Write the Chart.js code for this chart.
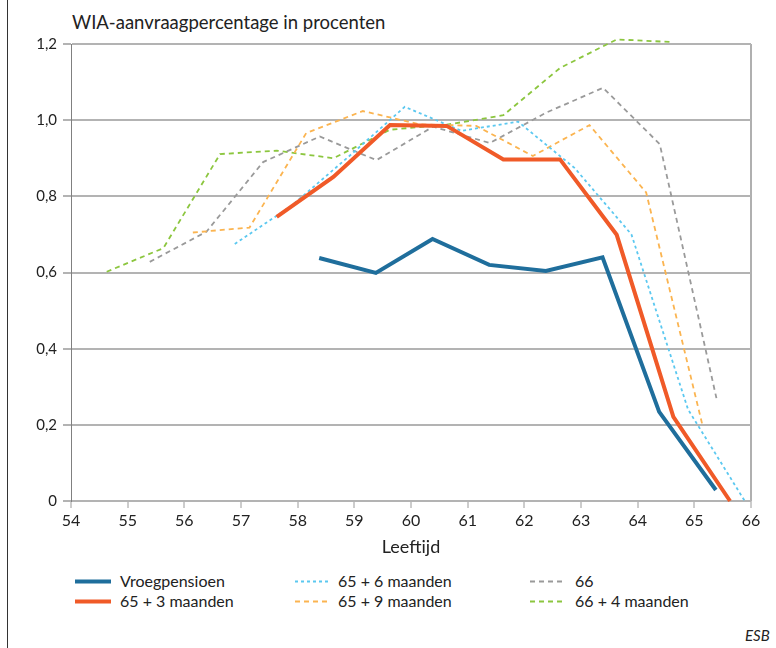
<!DOCTYPE html>
<html>
<head>
<meta charset="utf-8">
<script src="https://cdn.jsdelivr.net/npm/chart.js@4.4.1/dist/chart.umd.min.js"></script>
<style>
  html, body { margin: 0; padding: 0; background: #fff; }
  #wrap { position: relative; width: 776px; height: 648px; overflow: hidden; font-family: Lato, "Open Sans", sans-serif; color: #222; }
  #leftrule { position: absolute; left: 7px; top: 0; width: 1px; height: 648px; background: #333; }
  #title { position: absolute; left: 72px; top: 11px; font-size: 18.5px; white-space: nowrap; }
  canvas { position: absolute; left: 0; top: 0; }
  .lg { position: absolute; font-size: 16px; white-space: nowrap; line-height: 20px; }
  .lg svg { position: absolute; top: 0; }
  #esb { position: absolute; left: 745px; top: 626px; font-size: 15px; font-style: italic; }
</style>
</head>
<body>
<div id="wrap">
  <div id="leftrule"></div>
  <div id="title">WIA-aanvraagpercentage in procenten</div>
  <canvas id="c" width="776" height="560"></canvas>
  <div id="legend"></div>
  <div id="esb">ESB</div>
</div>
<script>
// ---- data ----
const seriesNames = ["Vroegpensioen", "65 + 3 maanden", "65 + 6 maanden", "65 + 9 maanden", "66", "66 + 4 maanden"];

const vroegAges   = [58.38, 59.38, 60.38, 61.38, 62.38, 63.38, 64.38, 65.38];
const vroegValues = [0.638, 0.599, 0.688, 0.620, 0.604, 0.640, 0.234, 0.029];

const m3Ages   = [57.63, 58.63, 59.63, 60.63, 61.63, 62.63, 63.63, 64.63, 65.63];
const m3Values = [0.746, 0.851, 0.987, 0.985, 0.897, 0.897, 0.699, 0.221, 0.0];

const m6Ages   = [56.89, 57.89, 58.89, 59.89, 60.89, 61.89, 62.89, 63.89, 64.89, 65.89];
const m6Values = [0.675, 0.775, 0.903, 1.035, 0.972, 0.996, 0.874, 0.700, 0.240, 0.0];

const m9Ages   = [56.15, 57.15, 58.15, 59.15, 60.15, 61.15, 62.15, 63.15, 64.15, 65.15];
const m9Values = [0.705, 0.718, 0.966, 1.024, 0.989, 0.985, 0.906, 0.987, 0.810, 0.195];

const y66Ages   = [55.39, 56.39, 57.39, 58.39, 59.39, 60.39, 61.39, 62.39, 63.39, 64.39, 65.39];
const y66Values = [0.628, 0.707, 0.890, 0.957, 0.895, 0.983, 0.940, 1.020, 1.085, 0.937, 0.270];

const y66m4Ages   = [54.63, 55.63, 56.63, 57.63, 58.63, 59.63, 60.63, 61.63, 62.63, 63.63, 64.63];
const y66m4Values = [0.602, 0.664, 0.911, 0.920, 0.900, 0.975, 0.988, 1.013, 1.137, 1.212, 1.205];

const xTicks = [54, 55, 56, 57, 58, 59, 60, 61, 62, 63, 64, 65, 66];
const yTicks = [0, 0.2, 0.4, 0.6, 0.8, 1.0, 1.2];

// ---- styles ----
const colors = ["#1f6e9c", "#f05a28", "#5bc8f0", "#fbb450", "#9a9a9a", "#8cc63f"];
const widths = [4, 4, 1.8, 1.8, 1.8, 1.8];
const dashes = [[], [], [3, 3], [5, 4], [5, 4], [5, 4]];

function pts(xs, ys) { return xs.map((x, i) => ({x: x, y: ys[i]})); }
const allData = [
  pts(vroegAges, vroegValues), pts(m3Ages, m3Values), pts(m6Ages, m6Values),
  pts(m9Ages, m9Values), pts(y66Ages, y66Values), pts(y66m4Ages, y66m4Values)
];

const datasets = allData.map((d, i) => ({
  label: seriesNames[i],
  data: d,
  borderColor: colors[i],
  backgroundColor: colors[i],
  borderWidth: widths[i],
  borderDash: dashes[i],
  borderJoinStyle: 'miter',
  borderCapStyle: 'butt',
  pointRadius: 0,
  tension: 0,
  fill: false,
  clip: 10,
  order: i
}));

const FONT = "Lato, 'Open Sans', sans-serif";

new Chart(document.getElementById('c'), {
  type: 'line',
  data: { datasets: datasets },
  options: {
    responsive: false,
    animation: false,
    devicePixelRatio: 1,
    layout: { padding: { left: 0, top: 44, right: 25, bottom: 0 } },
    plugins: { legend: { display: false }, tooltip: { enabled: false }, title: { display: false } },
    scales: {
      x: {
        type: 'linear',
        min: 54, max: 66,
        afterBuildTicks: s => { s.ticks = xTicks.map(v => ({value: v})); },
        afterFit: s => { s.height = 59; s.paddingLeft = 0; s.paddingRight = 0; },
        ticks: { color: '#222', font: { family: FONT, size: 16 }, padding: 3, maxRotation: 0, autoSkip: false },
        grid: {
          drawOnChartArea: true,
          color: c => (c.tick && c.tick.value === 66) ? '#b0b0b0' : 'rgba(0,0,0,0)',
          lineWidth: 2,
          tickColor: '#9a9a9a',
          tickWidth: 1,
          tickLength: 7
        },
        border: { display: false },
        title: { display: true, text: 'Leeftijd', color: '#222', font: { family: FONT, size: 18 }, padding: { top: 0, bottom: 2 } }
      },
      y: {
        min: 0, max: 1.2,
        afterBuildTicks: s => { s.ticks = yTicks.map(v => ({value: v})); },
        afterFit: s => { s.width = 71; s.paddingTop = 0; s.paddingBottom = 0; },
        ticks: {
          color: '#222', font: { family: FONT, size: 15 }, padding: 6,
          callback: v => v === 0 ? '0' : Number(v).toFixed(1).replace('.', ',')
        },
        grid: { color: '#b3b3b3', lineWidth: 2, tickLength: 8, tickColor: '#b3b3b3' },
        border: { display: true, color: '#808080', width: 1 }
      }
    }
  }
});

// ---- HTML legend ----
const legendPos = [
  {x: 75, y: 571, tx: 120}, {x: 75, y: 591, tx: 120},
  {x: 295, y: 571, tx: 338}, {x: 295, y: 591, tx: 338},
  {x: 530, y: 571, tx: 575}, {x: 530, y: 591, tx: 575}
];
const lg = document.getElementById('legend');
seriesNames.forEach((name, i) => {
  const p = legendPos[i];
  const d = document.createElement('div');
  d.className = 'lg';
  d.style.left = p.x + 'px';
  d.style.top = p.y + 'px';
  const len = 36;
  const dash = dashes[i].length ? ` stroke-dasharray="${dashes[i].join(' ')}"` : '';
  d.innerHTML = `<svg width="${len}" height="20" style="left:0"><line x1="0" y1="10.5" x2="${len}" y2="10.5" stroke="${colors[i]}" stroke-width="${widths[i]}"${dash}/></svg>` +
    `<span style="position:absolute;left:${p.tx - p.x}px;top:0">${name}</span>`;
  lg.appendChild(d);
});
</script>
</body>
</html>
